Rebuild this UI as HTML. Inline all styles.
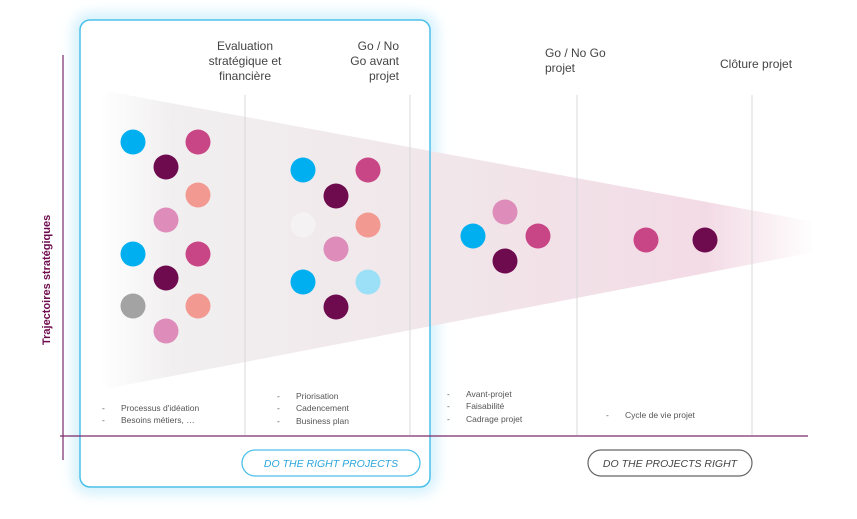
<!DOCTYPE html>
<html><head><meta charset="utf-8"><style>
body{margin:0;background:#fff;}
svg{display:block;font-family:"Liberation Sans",sans-serif;}
</style></head><body>
<svg width="857" height="519" viewBox="0 0 857 519" xmlns="http://www.w3.org/2000/svg">
<defs>
<linearGradient id="fg" x1="0" y1="0" x2="1" y2="0">
<stop offset="0" stop-color="#ffffff"/>
<stop offset="0.1" stop-color="#f1eff0"/>
<stop offset="0.5" stop-color="#f1e6ea"/>
<stop offset="0.85" stop-color="#f3dbe5"/>
<stop offset="1" stop-color="#ffffff"/>
</linearGradient>
<filter id="glow" x="-20%" y="-20%" width="140%" height="140%"><feGaussianBlur stdDeviation="7"/></filter>
</defs>
<rect x="80" y="20" width="350" height="467" rx="10" fill="none" stroke="#bfeafb" stroke-width="10" filter="url(#glow)"/>
<rect x="80" y="20" width="350" height="467" rx="10" fill="#fff"/>
<polygon points="100,90 815,222 815,252 100,390" fill="url(#fg)"/>
<rect x="80" y="20" width="350" height="467" rx="10" fill="none" stroke="#4cc0e8" stroke-width="1.5"/>
<g stroke="#d8d8d8" stroke-width="1">
<line x1="245" y1="95" x2="245" y2="435"/><line x1="410" y1="95" x2="410" y2="435"/>
<line x1="577" y1="95" x2="577" y2="435"/><line x1="752" y1="95" x2="752" y2="435"/>
</g>
<line x1="60" y1="436" x2="808" y2="436" stroke="#7a2a6a" stroke-width="1.2"/>
<line x1="63" y1="55" x2="63" y2="460" stroke="#7a2a6a" stroke-width="1.2"/>
<text transform="translate(50,345) rotate(-90)" font-size="11" font-weight="bold" fill="#6e0a4e">Trajectoires stratégiques</text>
<g font-size="12" fill="#444">
<text x="245" y="50" text-anchor="middle">Evaluation</text>
<text x="245" y="65" text-anchor="middle">stratégique et</text>
<text x="245" y="80" text-anchor="middle">financière</text>
<text x="399" y="50" text-anchor="end">Go / No</text>
<text x="399" y="65" text-anchor="end">Go avant</text>
<text x="399" y="80" text-anchor="end">projet</text>
<text x="545" y="57">Go / No Go</text>
<text x="545" y="72">projet</text>
<text x="720" y="68">Clôture projet</text>
</g>
<g>
<circle cx="133" cy="142" r="12.5" fill="#00aff0"/><circle cx="198" cy="142" r="12.5" fill="#c84586"/>
<circle cx="166" cy="167" r="12.5" fill="#6e0a4e"/><circle cx="198" cy="195" r="12.5" fill="#f29a91"/>
<circle cx="166" cy="220" r="12.5" fill="#de8cb9"/><circle cx="133" cy="254" r="12.5" fill="#00aff0"/>
<circle cx="198" cy="254" r="12.5" fill="#c84586"/><circle cx="166" cy="278" r="12.5" fill="#6e0a4e"/>
<circle cx="133" cy="306" r="12.5" fill="#a3a3a3"/><circle cx="198" cy="306" r="12.5" fill="#f29a91"/>
<circle cx="166" cy="331" r="12.5" fill="#de8cb9"/>
<circle cx="303" cy="170" r="12.5" fill="#00aff0"/><circle cx="368" cy="170" r="12.5" fill="#c84586"/>
<circle cx="336" cy="196" r="12.5" fill="#6e0a4e"/><circle cx="303" cy="225" r="12.5" fill="#f4f2f3"/>
<circle cx="368" cy="225" r="12.5" fill="#f29a91"/><circle cx="336" cy="249" r="12.5" fill="#de8cb9"/>
<circle cx="303" cy="282" r="12.5" fill="#00aff0"/><circle cx="368" cy="282" r="12.5" fill="#9be0f7"/>
<circle cx="336" cy="307" r="12.5" fill="#6e0a4e"/>
<circle cx="505" cy="212" r="12.5" fill="#de8cb9"/><circle cx="473" cy="236" r="12.5" fill="#00aff0"/>
<circle cx="538" cy="236" r="12.5" fill="#c84586"/><circle cx="505" cy="261" r="12.5" fill="#6e0a4e"/>
<circle cx="646" cy="240" r="12.5" fill="#c84586"/><circle cx="705" cy="240" r="12.5" fill="#6e0a4e"/>
</g>
<g font-size="8.5" fill="#555">
<text x="102" y="411">-</text><text x="121" y="411">Processus d'idéation</text>
<text x="102" y="423">-</text><text x="121" y="423">Besoins métiers, …</text>
<text x="277" y="399">-</text><text x="296" y="399">Priorisation</text>
<text x="277" y="411">-</text><text x="296" y="411">Cadencement</text>
<text x="277" y="424">-</text><text x="296" y="424">Business plan</text>
<text x="447" y="397">-</text><text x="466" y="397">Avant-projet</text>
<text x="447" y="409">-</text><text x="466" y="409">Faisabilité</text>
<text x="447" y="422">-</text><text x="466" y="422">Cadrage projet</text>
<text x="606" y="418">-</text><text x="625" y="418">Cycle de vie projet</text>
</g>
<rect x="242" y="450" width="178" height="26" rx="13" fill="#fff" stroke="#4cc0e8" stroke-width="1.3"/>
<text x="331" y="467" text-anchor="middle" font-size="10.5" font-style="italic" fill="#2aa6dc">DO THE RIGHT PROJECTS</text>
<rect x="588" y="450" width="164" height="26" rx="13" fill="#fff" stroke="#666" stroke-width="1.2"/>
<text x="670" y="467" text-anchor="middle" font-size="10.5" font-style="italic" fill="#444">DO THE PROJECTS RIGHT</text>
</svg>
</body></html>
